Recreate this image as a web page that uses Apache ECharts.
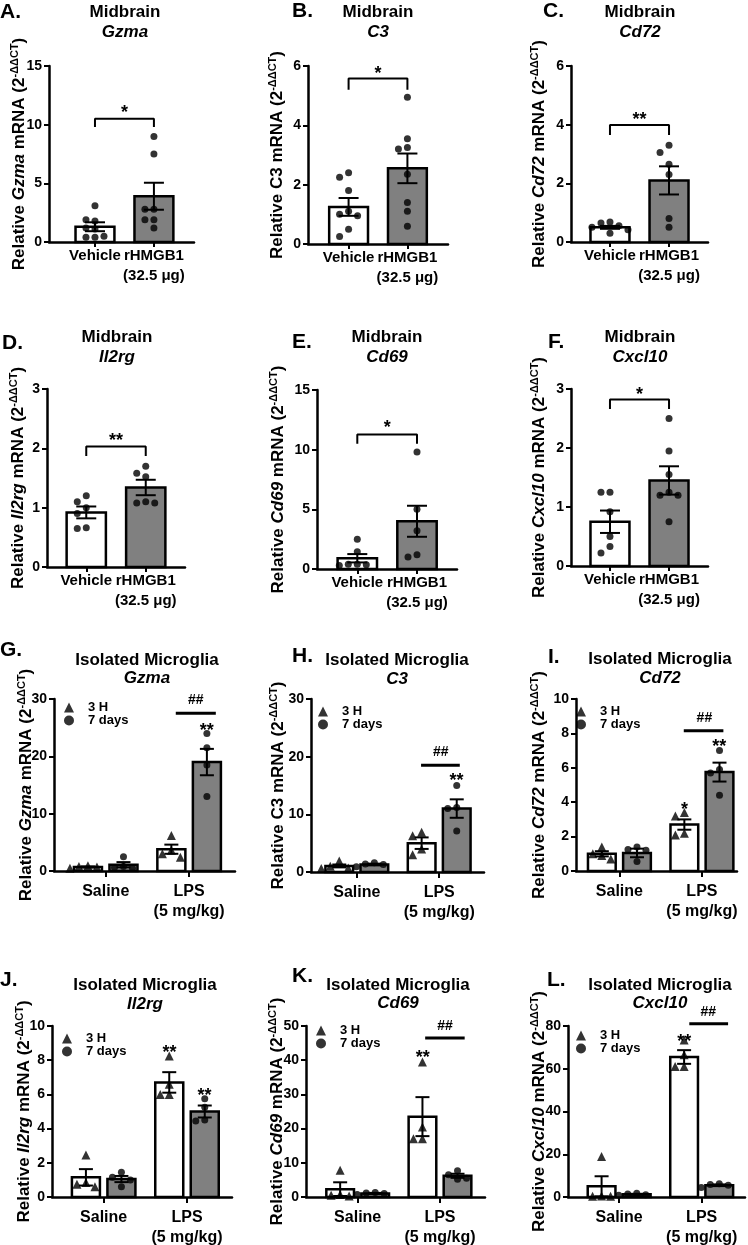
<!DOCTYPE html>
<html>
<head>
<meta charset="utf-8" />
<title>Midbrain / isolated microglia mRNA</title>
<script src="https://cdn.jsdelivr.net/npm/echarts@6/dist/echarts.min.js"></script>
<style>
  body { margin: 0; background: #fff; }
  #chart { width: 748px; height: 1245px; }
</style>
</head>
<body>
<div id="chart"></div>
<script>
// ---------- data ----------
// A-F: midbrain, Vehicle vs rHMGB1
var midGenes = ['Gzma', 'C3', 'Cd72', 'Il2rg', 'Cd69', 'Cxcl10'];
var midItalicAxis = [true, false, true, true, true, true];
var midCats = ['Vehicle', 'rHMGB1\n(32.5 μg)'];
var midYMax = [15, 6, 6, 3, 15, 3];
var midYStep = [5, 2, 2, 1, 5, 1];
var midMean = [[1.3, 3.9], [1.25, 2.55], [0.5, 2.1], [0.92, 1.34], [0.9, 4.0], [0.75, 1.45]];
var midSem = [[0.38, 1.15], [0.3, 0.5], [0.05, 0.48], [0.1, 0.13], [0.35, 1.3], [0.19, 0.24]];
var midPts = [
  [[3.1, 1.8, 1.9, 1.1, 1.2, 0.4, 0.4, 0.5], [9.0, 7.5, 2.8, 2.8, 1.9, 1.9, 1.2]],
  [[2.4, 2.25, 1.8, 1.1, 1.0, 0.95, 0.5, 0.25], [4.95, 3.55, 3.25, 3.2, 2.35, 1.4, 1.1, 0.6]],
  [[0.68, 0.65, 0.55, 0.5, 0.42, 0.3], [3.3, 3.05, 2.65, 2.3, 0.8, 0.5]],
  [[1.2, 1.1, 1.0, 0.9, 0.66, 0.65], [1.7, 1.58, 1.52, 1.1, 1.08, 1.08]],
  [[2.5, 1.45, 0.4, 0.4, 0.35, 0.3], [9.8, 5.0, 3.2, 1.2, 1.0]],
  [[1.25, 1.25, 0.92, 0.5, 0.33, 0.22], [2.5, 1.95, 1.55, 1.25, 1.2, 1.2, 0.75]]
];
var midSig = ['*', '*', '**', '**', '*', '*'];

// G-L: isolated microglia, Saline vs LPS, 3 H and 7 days
var mgGenes = ['Gzma', 'C3', 'Cd72', 'Il2rg', 'Cd69', 'Cxcl10'];
var mgItalicAxis = [true, false, true, true, true, true];
var mgCats = ['Saline', 'LPS\n(5 mg/kg)'];
var mgGroups = ['3 H', '7 days'];
var mgYMax = [30, 30, 10, 10, 50, 80];
var mgYStep = [10, 10, 2, 2, 10, 20];
var mgMean3h = [[0.7, 3.8], [1.05, 5.0], [1.0, 2.7], [1.15, 6.7], [2.3, 23.5], [5.0, 65.5]];
var mgSem3h = [[0.1, 0.8], [0.25, 1.0], [0.15, 0.3], [0.48, 0.6], [2.0, 5.7], [4.7, 3.2]];
var mgMean7d = [[1.1, 19.0], [1.3, 11.0], [1.05, 5.75], [1.05, 5.0], [1.05, 6.2], [1.25, 5.5]];
var mgSem7d = [[0.45, 2.3], [0.15, 1.6], [0.25, 0.55], [0.18, 0.35], [0.15, 0.6], [0.25, 0.4]];
var mgPts3h = [
  [[0.9, 0.8, 0.7, 0.5], [6.2, 3.6, 3.0, 2.4]],
  [[1.9, 1.0, 0.7, 0.6], [6.9, 6.3, 4.0, 3.0]],
  [[1.4, 1.0, 0.9, 0.7], [3.4, 3.2, 2.2, 2.1]],
  [[2.45, 0.85, 0.75, 0.6], [8.25, 6.6, 6.0, 6.0]],
  [[7.8, 0.7, 0.5, 0.3], [39.5, 20.5, 17.0, 17.0]],
  [[19.0, 0.5, 0.4, 0.3], [73.5, 66.5, 61.0, 61.0]]
];
var mgPts7d = [
  [[2.5, 0.8, 0.6, 0.5], [24.0, 21.5, 18.5, 13.0]],
  [[1.6, 1.4, 1.3, 0.9], [15.0, 11.2, 11.0, 7.1]],
  [[1.4, 1.25, 1.2, 0.55], [7.0, 5.9, 5.7, 4.4]],
  [[1.45, 1.15, 1.0, 0.6], [5.75, 5.25, 4.5, 4.45]],
  [[1.3, 1.2, 1.0, 0.7], [7.7, 6.5, 5.5, 5.2]],
  [[1.8, 1.4, 1.0, 0.8], [6.2, 5.8, 5.5, 4.5]]
];

// ---------- layout (pixels, and x in axis units where category i sits at i) ----------
var midLayout = [
  { left: 49, top: 66, w: 145, h: 176, xmin: -0.78, xmax: 1.68, gap: 21, bracket: [9.8, 10.5, 11.4], letter: ['A.', 0, 12], head: [125, 12, 32] },
  { left: 308, top: 66, w: 140, h: 178, xmin: -0.69, xmax: 1.69, gap: 22, bracket: [5.2, 5.58, 5.9], letter: ['B.', 292, 11], head: [378, 12, 32] },
  { left: 571, top: 66, w: 137, h: 176, xmin: -0.66, xmax: 1.66, gap: 23, bracket: [3.65, 3.99, 4.33], letter: ['C.', 543, 11], head: [640, 12, 32] },
  { left: 47, top: 389, w: 138, h: 178, xmin: -0.66, xmax: 1.66, gap: 20, bracket: [1.87, 2.03, 2.21], letter: ['D.', 2, 343], head: [117, 337, 357] },
  { left: 317, top: 390, w: 140, h: 179, xmin: -0.675, xmax: 1.67, gap: 30, bracket: [10.5, 11.28, 12.2], letter: ['E.', 292, 342], head: [387, 337, 357] },
  { left: 571, top: 389, w: 137, h: 177, xmin: -0.66, xmax: 1.66, gap: 23, bracket: [2.66, 2.82, 2.98], letter: ['F.', 548, 342], head: [640, 337, 357] }
];
var mgLayout = [
  { left: 54, top: 699, w: 181, h: 172, xmin: -0.62, xmax: 1.55, gap: 19, legend: [64, 701], letter: ['G.', 0, 650], head: [147, 660, 678],
    lines: [[0.84, 1.32, 27.5]], marks: [['##', 1.08, 29.8], ['**', 1.21, 25.3]] },
  { left: 311, top: 699, w: 173, h: 173, xmin: -0.556, xmax: 1.544, gap: 24, legend: [318, 705], letter: ['H.', 292, 656], head: [397, 660, 679],
    lines: [[0.78, 1.25, 18.5]], marks: [['##', 1.02, 20.7], ['**', 1.21, 16.6]] },
  { left: 576, top: 699, w: 161, h: 172, xmin: -0.526, xmax: 1.425, gap: 28, legend: [576, 705], letter: ['I.', 548, 657], head: [660, 659, 678],
    lines: [[0.78, 1.26, 8.16]], marks: [['##', 1.03, 8.87], ['**', 1.21, 7.5], ['*', 0.79, 3.86]] },
  { left: 52, top: 1026, w: 180, h: 171, xmin: -0.62, xmax: 1.54, gap: 19, legend: [62, 1032], letter: ['J.', 0, 980], head: [145, 985, 1004],
    lines: [], marks: [['**', 0.79, 8.7], ['**', 1.21, 6.2]] },
  { left: 306, top: 1026, w: 179, h: 171, xmin: -0.628, xmax: 1.547, gap: 20, legend: [316, 1024], letter: ['K.', 292, 976], head: [398, 985, 1003],
    lines: [[0.82, 1.30, 46.5]], marks: [['##', 1.06, 50], ['**', 0.79, 42]] },
  { left: 568, top: 1026, w: 177, h: 171, xmin: -0.62, xmax: 1.525, gap: 20, legend: [576, 1029], letter: ['L.', 547, 980], head: [660, 985, 1003],
    lines: [[0.85, 1.32, 81]], marks: [['##', 1.08, 86.7], ['**', 0.79, 75]] }
];

var FONT = '"Liberation Sans", Arial, Helvetica, sans-serif';
var GRAY = '#808080';

var grids = [], xAxes = [], yAxes = [], series = [], graphics = [], legends = [];

var nameRich = {
  n: { fontFamily: FONT, fontSize: 17, fontWeight: 'bold', color: '#000', verticalAlign: 'bottom' },
  i: { fontFamily: FONT, fontSize: 17, fontWeight: 'bold', fontStyle: 'italic', color: '#000', verticalAlign: 'bottom' },
  s: { fontFamily: FONT, fontSize: 11, fontWeight: 'bold', color: '#000', verticalAlign: 'top', padding: [0, 0, 8, 0] }
};

function axisName(gene, italic) {
  return '{n|Relative }' + (italic ? '{i|' + gene + '}' : '{n|' + gene + '}') + '{n| mRNA (2}{s|-ΔΔCT}{n|)}';
}

// spread points sideways so they don't overlap (simple beeswarm)
function swarm(vals, cx, pxX, pxY) {
  var step = 9, minD = 8, placed = [], out = [];
  vals.forEach(function (v) {
    var py = v * pxY, s = 0;
    for (var k = 0; k < 30; k++) {
      s = k === 0 ? 0 : (k % 2 ? -1 : 1) * Math.ceil(k / 2);
      var ok = placed.every(function (p) {
        var dx = s * step - p[0], dy = py - p[1];
        return dx * dx + dy * dy >= minD * minD;
      });
      if (ok) break;
    }
    placed.push([s * step, py]);
    out.push([cx + s * step / pxX, v]);
  });
  return out;
}

function addHead(L, line1, gene) {
  graphics.push({ type: 'text', x: L.letter[1], y: L.letter[2],
    style: { text: L.letter[0], font: 'bold 21px ' + FONT, fill: '#000', align: 'left', verticalAlign: 'middle' } });
  graphics.push({ type: 'text', x: L.head[0], y: L.head[1],
    style: { text: line1, font: 'bold 17px ' + FONT, fill: '#000', align: 'center', verticalAlign: 'middle' } });
  graphics.push({ type: 'text', x: L.head[0], y: L.head[2],
    style: { text: gene, font: 'italic bold 17px ' + FONT, fill: '#000', align: 'center', verticalAlign: 'middle' } });
}

function addAxes(L, cats, yMax, yStep, name, labelMargin, tickLen, catSize) {
  var i = grids.length;
  grids.push({ left: L.left, top: L.top, width: L.w, height: L.h, outerBoundsMode: 'none' });
  xAxes.push({
    gridIndex: i, type: 'value', min: L.xmin, max: L.xmax,
    axisLine: { onZero: false, lineStyle: { color: '#000', width: 2.5 } },
    axisTick: { show: true, customValues: [0, 1], length: tickLen, lineStyle: { color: '#000', width: 2 } },
    axisLabel: { customValues: [0, 1], margin: labelMargin, color: '#000', fontFamily: FONT, fontSize: catSize,
      fontWeight: 'bold', lineHeight: 20, formatter: function (v) { return cats[Math.round(v)]; } },
    splitLine: { show: false }
  });
  yAxes.push({
    gridIndex: i, type: 'value', min: 0, max: yMax, interval: yStep,
    name: name, nameLocation: 'middle', nameRotate: 90, nameGap: L.gap, nameMoveOverlap: false,
    nameTextStyle: { rich: nameRich },
    axisLine: { show: true, onZero: false, lineStyle: { color: '#000', width: 2.5 } },
    axisTick: { show: true, length: 5, lineStyle: { color: '#000', width: 2 } },
    axisLabel: { margin: 7, color: '#000', fontFamily: FONT, fontSize: 14, fontWeight: 'bold' },
    splitLine: { show: false }
  });
  return i;
}

function addBars(i, bars, halfW, capHalf) {
  series.push({
    type: 'custom', xAxisIndex: i, yAxisIndex: i, z: 1, silent: true,
    data: bars.map(function (b) { return [b.x, b.mean, b.sem]; }),
    renderItem: function (params, api) {
      var p0 = api.coord([api.value(0) - halfW, api.value(1)]);
      var p1 = api.coord([api.value(0) + halfW, 0]);
      return { type: 'rect', shape: { x: p0[0], y: p0[1], width: p1[0] - p0[0], height: p1[1] - p0[1] },
        style: { fill: bars[params.dataIndex].fill, stroke: '#000', lineWidth: 2.5 } };
    }
  });
  series.push({
    type: 'custom', xAxisIndex: i, yAxisIndex: i, z: 2, silent: true,
    data: bars.map(function (b) { return [b.x, b.mean, b.sem]; }),
    renderItem: function (params, api) {
      var x = api.value(0), m = api.value(1), s = api.value(2);
      var hi = api.coord([x, m + s]), lo = api.coord([x, m - s]);
      var st = { stroke: '#000', lineWidth: 2 };
      return { type: 'group', children: [
        { type: 'line', shape: { x1: hi[0], y1: hi[1], x2: lo[0], y2: lo[1] }, style: st },
        { type: 'line', shape: { x1: hi[0] - capHalf, y1: hi[1], x2: hi[0] + capHalf, y2: hi[1] }, style: st },
        { type: 'line', shape: { x1: lo[0] - capHalf, y1: lo[1], x2: lo[0] + capHalf, y2: lo[1] }, style: st }
      ] };
    }
  });
}

function addDots(i, name, data, symbol, size) {
  series.push({ type: 'scatter', name: name, xAxisIndex: i, yAxisIndex: i, z: 3, silent: true, clip: false,
    symbol: symbol, symbolSize: size, itemStyle: { color: '#000' }, data: data });
}

function addLine(i, pts, width) {
  series.push({ type: 'line', xAxisIndex: i, yAxisIndex: i, z: 4, silent: true, clip: false, symbol: 'none',
    lineStyle: { color: '#000', width: width }, data: pts });
}

function addMarks(i, marks) {
  series.push({
    type: 'custom', xAxisIndex: i, yAxisIndex: i, z: 5, silent: true,
    data: marks.map(function (m) { return [m[1], m[2]]; }),
    renderItem: function (params, api) {
      var m = marks[params.dataIndex];
      var c = api.coord([api.value(0), api.value(1)]);
      var star = m[0].charAt(0) === '*';
      return { type: 'text', x: c[0], y: c[1] + (star ? 5 : 0),
        style: { text: m[0], fill: '#000', font: (star ? 'bold 18px ' : 'bold 14px ') + FONT,
          align: 'center', verticalAlign: 'middle' } };
    }
  });
}

// ---------- A-F ----------
midGenes.forEach(function (gene, k) {
  var L = midLayout[k];
  addHead(L, 'Midbrain', gene);
  var i = addAxes(L, midCats, midYMax[k], midYStep[k], axisName(gene, midItalicAxis[k]), 4, 5, 15);
  var pxX = L.w / (L.xmax - L.xmin), pxY = L.h / midYMax[k];
  addBars(i, [
    { x: 0, mean: midMean[k][0], sem: midSem[k][0], fill: '#fff' },
    { x: 1, mean: midMean[k][1], sem: midSem[k][1], fill: GRAY }
  ], 0.33, 10);
  addDots(i, 'points', swarm(midPts[k][0], 0, pxX, pxY).concat(swarm(midPts[k][1], 1, pxX, pxY)), 'circle', 7);
  var b = L.bracket;
  addLine(i, [[0, b[0]], [0, b[1]], [1, b[1]], [1, b[0]]], 2);
  addMarks(i, [[midSig[k], 0.5, b[2]]]);
});

// ---------- G-L ----------
var OFF = 0.213;
mgGenes.forEach(function (gene, k) {
  var L = mgLayout[k];
  addHead(L, 'Isolated Microglia', gene);
  var i = addAxes(L, mgCats, mgYMax[k], mgYStep[k], axisName(gene, mgItalicAxis[k]), 11, 6, 16);
  var pxX = L.w / (L.xmax - L.xmin), pxY = L.h / mgYMax[k];
  var bars = [];
  [0, 1].forEach(function (c) {
    bars.push({ x: c - OFF, mean: mgMean3h[k][c], sem: mgSem3h[k][c], fill: '#fff' });
    bars.push({ x: c + OFF, mean: mgMean7d[k][c], sem: mgSem7d[k][c], fill: GRAY });
  });
  addBars(i, bars, 0.168, 7);
  addDots(i, mgGroups[0], swarm(mgPts3h[k][0], -OFF, pxX, pxY).concat(swarm(mgPts3h[k][1], 1 - OFF, pxX, pxY)), 'triangle', 9);
  addDots(i, mgGroups[1], swarm(mgPts7d[k][0], OFF, pxX, pxY).concat(swarm(mgPts7d[k][1], 1 + OFF, pxX, pxY)), 'circle', 7);
  L.lines.forEach(function (ln) { addLine(i, [[ln[0], ln[2]], [ln[1], ln[2]]], 3); });
  addMarks(i, L.marks);
  legends.push({
    left: L.legend[0], top: L.legend[1], orient: 'vertical', padding: 0, itemWidth: 10, itemHeight: 10, itemGap: 0,
    selectedMode: false,
    textStyle: { fontFamily: FONT, fontSize: 13, fontWeight: 'bold', color: '#000', lineHeight: 12, padding: [0, 0, 0, 9] },
    data: [{ name: mgGroups[0], icon: 'triangle' }, { name: mgGroups[1], icon: 'circle' }]
  });
});

var chart = echarts.init(document.getElementById('chart'), null, { renderer: 'canvas' });
chart.setOption({
  backgroundColor: '#fff',
  animation: false,
  grid: grids,
  xAxis: xAxes,
  yAxis: yAxes,
  legend: legends,
  graphic: graphics,
  series: series
});
</script>
</body>
</html>
